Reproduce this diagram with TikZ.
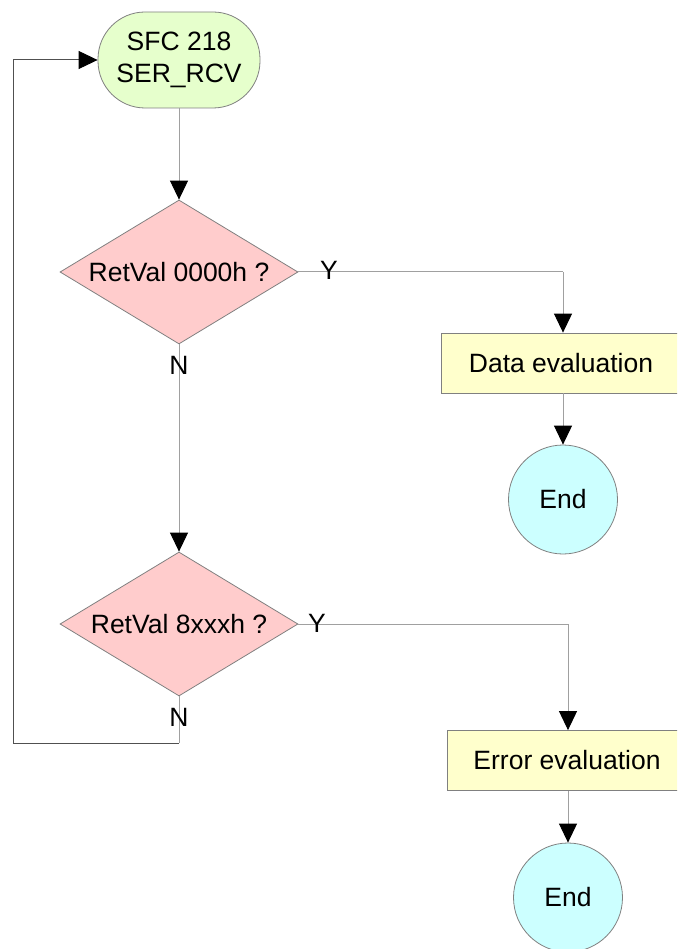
\documentclass[tikz,border=0pt]{standalone}
\usepackage{fontspec}
\setmainfont{Liberation Sans}
\usetikzlibrary{shapes.geometric,arrows.meta}
\definecolor{startfill}{HTML}{E6FFCC}
\definecolor{decfill}{HTML}{FFCCCC}
\definecolor{boxfill}{HTML}{FFFFCC}
\definecolor{endfill}{HTML}{CCFFFF}
\definecolor{bordergray}{HTML}{808080}
\definecolor{linegray}{HTML}{A0A0A0}
\definecolor{loopgray}{HTML}{505050}
\tikzset{
  every node/.style={font=\fontsize{26.5}{32}\selectfont, text=black},
  startbox/.style={draw=bordergray, fill=startfill, rounded corners=47pt, minimum width=162pt, minimum height=96pt, inner sep=0pt, align=center, line width=0.8pt},
  decbox/.style={draw=bordergray, fill=decfill, diamond, aspect=1.65, minimum width=238pt, minimum height=144pt, inner sep=0pt, line width=0.8pt},
  procbox/.style={draw=bordergray, fill=boxfill, rectangle, minimum width=240pt, minimum height=60pt, inner sep=0pt, line width=0.8pt},
  endbox/.style={draw=bordergray, fill=endfill, circle, minimum size=109pt, inner sep=0pt, line width=0.8pt},
  flow/.style={draw=linegray, line width=1pt, -{Triangle[length=19pt,width=18pt,fill=black,color=black]}},
  plain/.style={draw=linegray, line width=1pt},
  loopline/.style={draw=loopgray, line width=1pt},
  lbl/.style={inner sep=0pt}
}
\begin{document}
\begin{tikzpicture}[x=1pt,y=-1pt]
\useasboundingbox (0,0) rectangle (677,949);
\clip (0,0) rectangle (677,949);
\node[startbox] (start) at (179,60) {SFC 218\\SER\_RCV};
\node[decbox] (d1) at (179,272) {RetVal 0000h ?};
\node[procbox] (data) at (561,363) {Data evaluation};
\node[endbox] (e1) at (563,499.5) {End};
\node[decbox] (d2) at (179,624) {RetVal 8xxxh ?};
\node[procbox] (err) at (567,760.5) {Error evaluation};
\node[endbox] (e2) at (568,897.5) {End};
\coordinate (c1) at (179,743);
\coordinate (c2) at (13,743);
\coordinate (ytop1) at (563,272);
\coordinate (ytop2) at (568,624);

\draw[flow] (start.south) -- (d1.north);
\draw[plain] (d1.east) -- (ytop1);
\draw[flow] (ytop1) -- (data.north -| ytop1);
\draw[flow] (data.south -| ytop1) -- (e1.north);
\draw[flow] (d1.south) -- (d2.north);
\draw[plain] (d2.east) -- (ytop2);
\draw[flow] (ytop2) -- (err.north -| ytop2);
\draw[flow] (err.south -| ytop2) -- (e2.north);
\draw[plain] (d2.south) -- (c1);
\draw[loopline] (c1) -- (c2) -- (c2 |- start.west);
\draw[loopline, -{Triangle[length=19pt,width=18pt,fill=black,color=black]}] (c2 |- start.west) -- (start.west);

\node[lbl] (y1) at (329,270) {Y};
\node[lbl] (n1) at (179,365) {N};
\node[lbl] (y2) at (317,623) {Y};
\node[lbl] (n2) at (179,717) {N};
\end{tikzpicture}
\end{document}
